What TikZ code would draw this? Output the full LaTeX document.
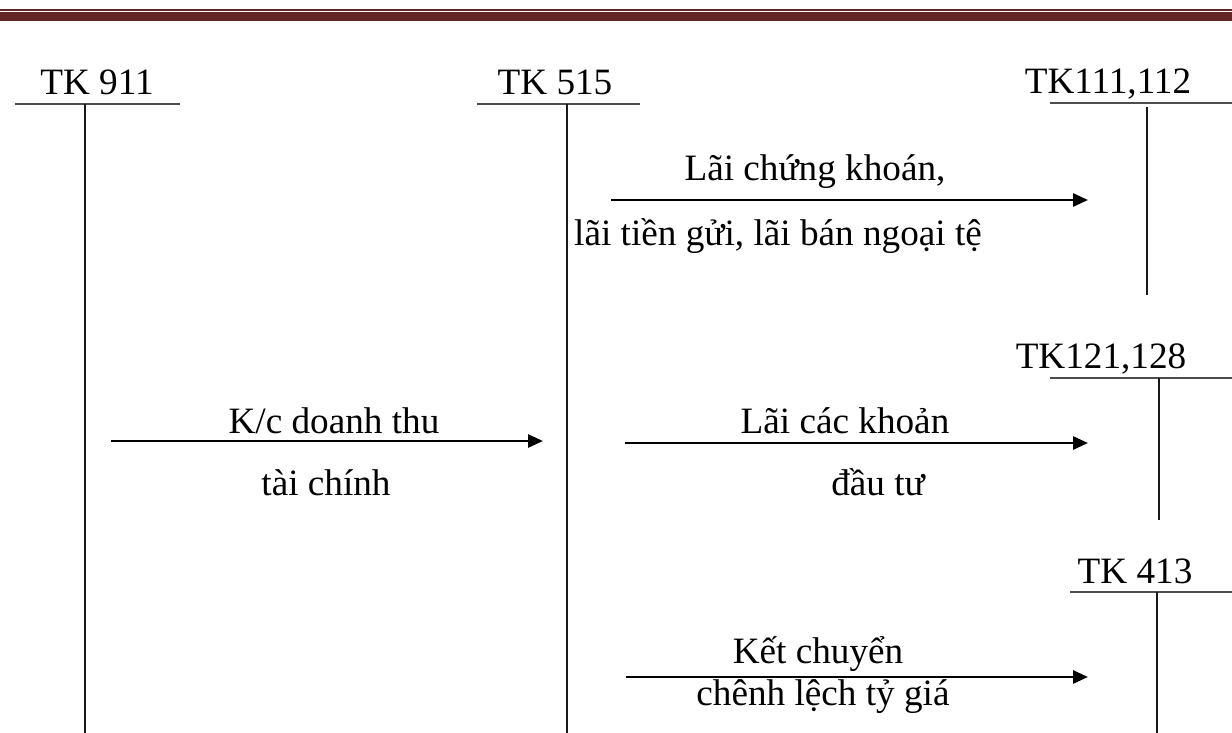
\documentclass[tikz,border=0pt]{standalone}
\usepackage{fontspec}
\setmainfont{Liberation Serif}
\usetikzlibrary{arrows.meta}
\definecolor{barred}{RGB}{99,36,35}
\begin{document}
\begin{tikzpicture}[x=0.5pt,y=-0.5pt,
  lbl/.style={anchor=base,inner sep=0pt,font=\fontsize{18.6}{22}\selectfont},
  ledger/.style={line width=1.3pt,draw=black!70},
  post/.style={line width=1.1pt,draw=black!90},
  flow/.style={line width=1.4pt,-{Triangle[length=7.5pt,width=6.5pt]}}]
\useasboundingbox (0,0) rectangle (1232,733);

% header rule: thin line over a thick band
\fill[barred] (0,9) rectangle (1232,10.8);
\fill[barred] (0,12.3) rectangle (1232,21);

% account TK 911
\node[lbl] (tk911) at (97,95) {TK 911};
\coordinate (u911l) at (15,104);
\coordinate (u911r) at (180,104);
\coordinate (v911t) at (85,104);
\coordinate (v911b) at (85,733);
\draw[ledger] (u911l) -- (u911r);
\draw[post] (v911t) -- (v911b);

% account TK 515
\node[lbl] (tk515) at (555,95) {TK 515};
\coordinate (u515l) at (477,104);
\coordinate (u515r) at (640,104);
\coordinate (v515t) at (567,104);
\coordinate (v515b) at (567,733);
\draw[ledger] (u515l) -- (u515r);
\draw[post] (v515t) -- (v515b);

% account TK111,112
\node[lbl] (tk111) at (1108,94) {TK111,112};
\coordinate (u111l) at (1050,103);
\coordinate (u111r) at (1232,103);
\coordinate (v111t) at (1147,107);
\coordinate (v111b) at (1147,295);
\draw[ledger] (u111l) -- (u111r);
\draw[post] (v111t) -- (v111b);

% account TK121,128
\node[lbl] (tk121) at (1101,368) {TK121,128};
\coordinate (u121l) at (1050,378);
\coordinate (u121r) at (1232,378);
\coordinate (v121t) at (1159,378);
\coordinate (v121b) at (1159,520);
\draw[ledger] (u121l) -- (u121r);
\draw[post] (v121t) -- (v121b);

% account TK 413
\node[lbl] (tk413) at (1135,583) {TK 413};
\coordinate (u413l) at (1070,592);
\coordinate (u413r) at (1232,592);
\coordinate (v413t) at (1157,592);
\coordinate (v413b) at (1157,733);
\draw[ledger] (u413l) -- (u413r);
\draw[post] (v413t) -- (v413b);

% 515 -> 111,112
\coordinate (f1s) at (611,200);
\coordinate (f1e) at (1088,200);
\draw[flow] (f1s) -- (f1e);
\node[lbl] (f1a) at (815,180) {Lãi chứng khoán,};
\node[lbl] (f1b) at (778,245) {lãi tiền gửi, lãi bán ngoại tệ};

% 911 -> 515
\coordinate (f2s) at (111,441);
\coordinate (f2e) at (543,441);
\draw[flow] (f2s) -- (f2e);
\node[lbl] (f2a) at (334,433) {K/c doanh thu};
\node[lbl] (f2b) at (326,495) {tài chính};

% 515 -> 121,128
\coordinate (f3s) at (625,443);
\coordinate (f3e) at (1088,443);
\draw[flow] (f3s) -- (f3e);
\node[lbl] (f3a) at (845,433) {Lãi các khoản};
\node[lbl] (f3b) at (878,495) {đầu tư};

% 515 -> 413
\coordinate (f4s) at (626,677);
\coordinate (f4e) at (1088,677);
\draw[flow] (f4s) -- (f4e);
\node[lbl] (f4a) at (818,663) {Kết chuyển};
\node[lbl] (f4b) at (823,705) {chênh lệch tỷ giá};
\end{tikzpicture}
\end{document}
